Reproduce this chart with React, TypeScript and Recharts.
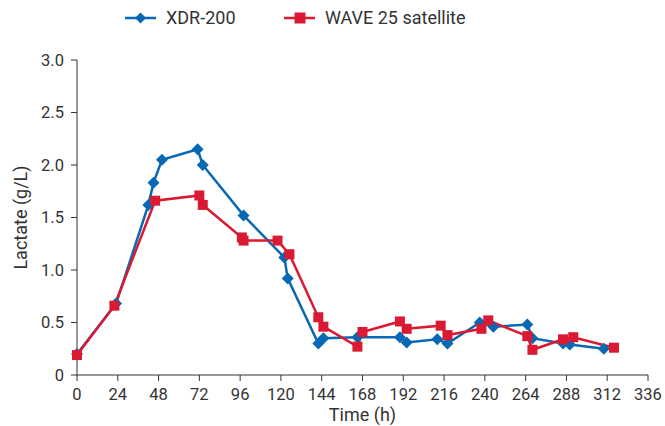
import React from 'react';
import { LineChart, Line, XAxis, YAxis, Label } from 'recharts';

const BLUE = '#0868b4';
const RED = '#da1a32';
const INK = '#333333';
const FONT = 'Roboto, "Noto Sans", sans-serif';

// sampling times (h) and lactate (g/L) for each vessel
const xdrTime = [0, 23, 42, 45, 50, 71, 74, 98, 122, 124, 142, 145, 165, 190, 194, 212, 218, 237, 245, 265, 268, 286, 290, 310];
const xdrLactate = [0.2, 0.68, 1.62, 1.83, 2.05, 2.15, 2.0, 1.52, 1.12, 0.92, 0.3, 0.35, 0.36, 0.36, 0.31, 0.34, 0.3, 0.5, 0.46, 0.48, 0.35, 0.3, 0.29, 0.25];

const waveTime = [0, 22, 46, 72, 74, 97, 98, 118, 125, 142, 145, 165, 168, 190, 194, 214, 218, 238, 242, 265, 268, 286, 292, 316];
const waveLactate = [0.19, 0.66, 1.66, 1.71, 1.62, 1.31, 1.28, 1.28, 1.15, 0.55, 0.46, 0.27, 0.41, 0.51, 0.44, 0.47, 0.38, 0.44, 0.52, 0.37, 0.24, 0.34, 0.36, 0.26];

const xTicks = [0, 24, 48, 72, 96, 120, 144, 168, 192, 216, 240, 264, 288, 312, 336];
const yTicks = [0, 0.5, 1.0, 1.5, 2.0, 2.5, 3.0];

const xdrData = xdrTime.map((t, i) => ({ time: t, lactate: xdrLactate[i] }));
const waveData = waveTime.map((t, i) => ({ time: t, lactate: waveLactate[i] }));

const Diamond = (props: any) => {
  const { cx, cy } = props;
  if (cx == null || cy == null) return null;
  const r = 6;
  return <path d={`M${cx},${cy - r}L${cx + r},${cy}L${cx},${cy + r}L${cx - r},${cy}Z`} fill={BLUE} />;
};

const Square = (props: any) => {
  const { cx, cy } = props;
  if (cx == null || cy == null) return null;
  const s = 10;
  return <rect x={cx - s / 2} y={cy - s / 2} width={s} height={s} fill={RED} />;
};

// series key drawn above the plot
const LegendBox = () => (
  <svg width={665} height={36} style={{ position: 'absolute', left: 0, top: 0 }}>
    <g>
      <line x1={125} y1={18} x2={156} y2={18} stroke={BLUE} strokeWidth={2.5} />
      <path d="M140.5,12.5L146,18L140.5,23.5L135,18Z" fill={BLUE} />
      <text x={166} y={24} fontSize={18} fill={INK} fontFamily={FONT}>XDR-200</text>
    </g>
    <g>
      <line x1={284} y1={18} x2={315} y2={18} stroke={RED} strokeWidth={2.5} />
      <rect x={294.5} y={12.5} width={11} height={11} fill={RED} />
      <text x={325} y={24} fontSize={18} fill={INK} fontFamily={FONT}>WAVE 25 satellite</text>
    </g>
  </svg>
);

export default function App() {
  const tick = { fontSize: 16.5, fill: INK, fontFamily: FONT };
  return (
    <div style={{ position: 'absolute', left: 0, top: 0, width: 665, height: 426, background: '#fff' }}>
      <LineChart width={665} height={426} margin={{ top: 60, right: 17, bottom: 0, left: 0 }}>
        <XAxis
          dataKey="time"
          type="number"
          domain={[0, 336]}
          ticks={xTicks}
          interval={0}
          allowDuplicatedCategory={false}
          height={51}
          tick={tick}
          tickSize={6}
          tickMargin={7}
          stroke={INK}
        >
          <Label value="Time (h)" position="insideBottom" offset={5} style={{ fontSize: 18, fill: INK, fontFamily: FONT }} />
        </XAxis>
        <YAxis
          dataKey="lactate"
          type="number"
          domain={[0, 3]}
          ticks={yTicks}
          interval={0}
          width={77}
          tick={tick}
          tickSize={6}
          tickMargin={7}
          tickFormatter={(v: number) => (v === 0 ? '0' : v.toFixed(1))}
          stroke={INK}
        >
          <Label
            value="Lactate (g/L)"
            angle={-90}
            position="insideLeft"
            offset={21}
            style={{ fontSize: 18, fill: INK, fontFamily: FONT, textAnchor: 'middle' }}
          />
        </YAxis>
        <Line
          data={xdrData}
          dataKey="lactate"
          name="XDR-200"
          stroke={BLUE}
          strokeWidth={2.5}
          dot={<Diamond />}
          activeDot={false}
          isAnimationActive={false}
        />
        <Line
          data={waveData}
          dataKey="lactate"
          name="WAVE 25 satellite"
          stroke={RED}
          strokeWidth={2.5}
          dot={<Square />}
          activeDot={false}
          isAnimationActive={false}
        />
      </LineChart>
      <LegendBox />
    </div>
  );
}
